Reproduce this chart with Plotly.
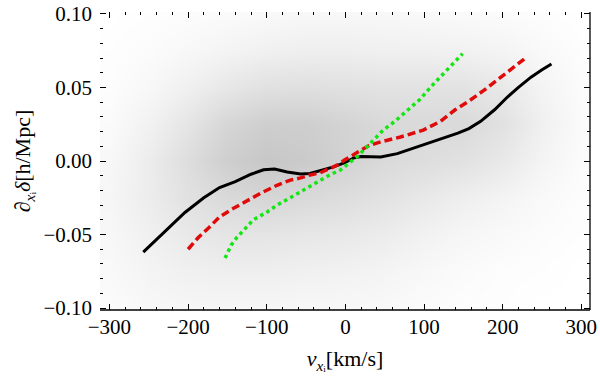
import plotly.graph_objects as go

# ---- data ----
black_v = [-257, -230, -204, -180, -160, -140, -120, -104, -90, -74, -57, -45, -32, -15, 0, 10, 20, 45, 66, 99, 121, 143, 157, 172, 190, 206, 220, 236, 250, 262]
black_d = [-0.062, -0.048, -0.035, -0.025, -0.018, -0.014, -0.009, -0.006, -0.0055, -0.0075, -0.0088, -0.0085, -0.0065, -0.004, -0.001, 0.002, 0.003, 0.0027, 0.005, 0.011, 0.0145, 0.019, 0.022, 0.027, 0.035, 0.0435, 0.050, 0.057, 0.062, 0.066]

red_v = [-200, -187, -174, -160, -145, -130, -108, -87, -70, -57, -45, -32, -20, -10, 0, 15, 30, 45, 70, 99, 121, 140, 155, 176, 195, 210, 229]
red_d = [-0.060, -0.052, -0.0455, -0.038, -0.033, -0.0285, -0.022, -0.0165, -0.013, -0.0115, -0.0095, -0.008, -0.005, -0.0027, 0.001, 0.006, 0.0105, 0.013, 0.0163, 0.021, 0.027, 0.035, 0.040, 0.048, 0.056, 0.062, 0.070]

green_v = [-153, -145, -138, -128, -117, -99, -87, -70, -57, -45, -32, -20, -6, 5, 15, 30, 48, 63, 79, 95, 108, 122, 135, 149]
green_d = [-0.066, -0.057, -0.052, -0.046, -0.040, -0.0345, -0.030, -0.025, -0.021, -0.017, -0.013, -0.0095, -0.006, -0.001, 0.003, 0.011, 0.021, 0.027, 0.0346, 0.042, 0.050, 0.058, 0.065, 0.073]

# background point-cloud density, estimated on a coarse grid
cloud_x = [-300, -250, -200, -150, -100, -50, 0, 50, 100, 150, 200, 250, 300]
cloud_y = [-0.1, -0.075, -0.05, -0.025, 0.0, 0.025, 0.05, 0.075, 0.1]
cloud_z = [
    [0.05, 0.10, 0.12, 0.12, 0.12, 0.10, 0.10, 0.08, 0.05, 0.03, 0.02, 0.00, 0.00],
    [0.08, 0.15, 0.20, 0.22, 0.22, 0.20, 0.18, 0.15, 0.10, 0.06, 0.03, 0.02, 0.00],
    [0.10, 0.20, 0.30, 0.35, 0.35, 0.32, 0.30, 0.25, 0.18, 0.12, 0.08, 0.04, 0.02],
    [0.12, 0.25, 0.40, 0.50, 0.55, 0.50, 0.45, 0.38, 0.30, 0.22, 0.15, 0.08, 0.03],
    [0.10, 0.25, 0.45, 0.65, 0.75, 0.70, 0.60, 0.50, 0.45, 0.40, 0.30, 0.15, 0.05],
    [0.06, 0.18, 0.35, 0.55, 0.65, 0.65, 0.58, 0.50, 0.50, 0.50, 0.40, 0.20, 0.06],
    [0.03, 0.10, 0.20, 0.32, 0.40, 0.42, 0.40, 0.38, 0.38, 0.38, 0.30, 0.15, 0.05],
    [0.02, 0.05, 0.10, 0.15, 0.20, 0.22, 0.22, 0.20, 0.20, 0.18, 0.15, 0.08, 0.03],
    [0.00, 0.02, 0.04, 0.06, 0.08, 0.10, 0.10, 0.10, 0.08, 0.07, 0.05, 0.03, 0.00],
]

x_ticks = [-300, -200, -100, 0, 100, 200, 300]
y_ticks = [-0.10, -0.05, 0.00, 0.05, 0.10]

FONT = "Liberation Serif, Times New Roman, Tinos, Times, serif"

fig = go.Figure()
fig.add_trace(go.Heatmap(
    x=cloud_x, y=cloud_y, z=cloud_z, zmin=0, zmax=1, zsmooth="best",
    colorscale=[[0, "rgb(255,255,255)"], [1, "rgb(180,180,180)"]],
    showscale=False, hoverinfo="skip"))
fig.add_trace(go.Scatter(x=black_v, y=black_d, mode="lines",
                         line=dict(color="black", width=3)))
fig.add_trace(go.Scatter(x=red_v, y=red_d, mode="lines",
                         line=dict(color="rgb(225,10,10)", width=3.5, dash="8px,4px")))
fig.add_trace(go.Scatter(x=green_v, y=green_d, mode="lines",
                         line=dict(color="rgb(20,230,20)", width=3.5, dash="3.5px,3.5px")))

axis_common = dict(
    showgrid=False, zeroline=False, showline=False, mirror="ticks", automargin=False,
    ticks="inside", ticklen=6, tickwidth=1, tickcolor="black",
    tickfont=dict(family=FONT, size=21, color="black"),
)
fig.update_xaxes(range=[-312, 311], tickvals=x_ticks, ticklabelstandoff=2,
                 minor=dict(ticks="inside", ticklen=3, dtick=20, tickcolor="black"),
                 title=dict(text="<i>v</i><sub><i>x</i>ᵢ</sub>[km/s]",
                            font=dict(family=FONT, size=22, color="black"), standoff=12),
                 **axis_common)
fig.update_yaxes(range=[-0.1013, 0.1013], tickvals=y_ticks, tickformat=".2f",
                 ticklabelstandoff=7,
                 minor=dict(ticks="inside", ticklen=3, dtick=0.01, tickcolor="black"),
                 title=dict(text="<i>∂</i><sub><i>x</i>ᵢ</sub><i>δ</i>[h/Mpc]",
                            font=dict(family=FONT, size=22, color="black"), standoff=6),
                 **axis_common)

fig.add_shape(type="line", xref="paper", yref="paper", x0=0, x1=1, y0=0, y1=0,
              line=dict(color="black", width=1.3))
fig.add_shape(type="line", xref="paper", yref="paper", x0=1, x1=1, y0=0, y1=1,
              line=dict(color="black", width=1.3))

fig.update_layout(width=600, height=377, margin=dict(l=100, r=10, t=12, b=67),
                  plot_bgcolor="white", paper_bgcolor="white", showlegend=False)

fig.write_html("out.html", config={"displayModeBar": False},
               post_script="document.body.style.margin='0px';document.body.style.overflow='hidden';")
